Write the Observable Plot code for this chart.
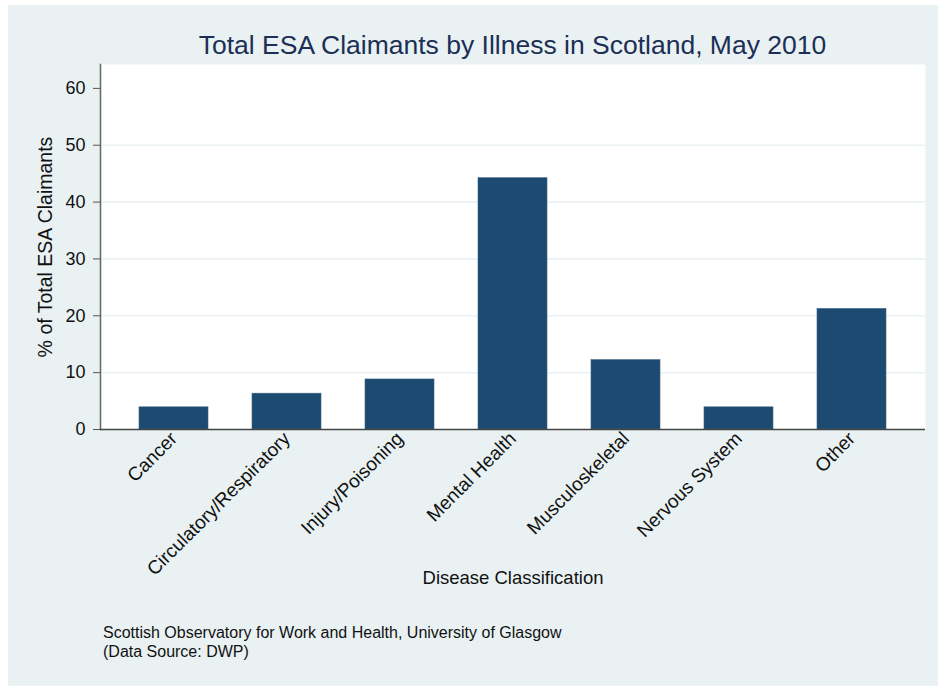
<!DOCTYPE html>
<html><head><meta charset="utf-8">
<script src="https://cdn.jsdelivr.net/npm/d3@7"></script>
<script src="https://cdn.jsdelivr.net/npm/@observablehq/plot@0.6"></script>
<style>
body{margin:0;background:#fff;font-family:"Liberation Sans",Arial,sans-serif;}
#wrap{position:relative;width:938px;height:686px;overflow:hidden;background:#fff;}
#bg{position:absolute;left:8px;top:5px;width:930px;height:681px;background:#e9f1f3;}
#title{position:absolute;left:100px;width:825px;top:30px;text-align:center;font-size:26.5px;line-height:30px;color:#1c2f55;white-space:nowrap;}
#chart{position:absolute;left:0;top:0;}
#caption{position:absolute;left:103px;top:623px;font-size:16px;line-height:19px;color:#111;}
</style></head>
<body>
<div id="wrap">
  <div id="bg"></div>
  <div id="chart"></div>
  <div id="title">Total ESA Claimants by Illness in Scotland, May 2010</div>
  <div id="caption">Scottish Observatory for Work and Health, University of Glasgow<br>(Data Source: DWP)</div>
</div>
<script>
const categories = ["Cancer","Circulatory/Respiratory","Injury/Poisoning","Mental Health","Musculoskeletal","Nervous System","Other"];
const values = [3.9, 6.3, 8.8, 44.2, 12.2, 3.9, 21.2];
const yTicks = [0,10,20,30,40,50,60];
const gridTicks = [10,20,30,40,50];

const data = categories.map((c,i)=>({cat:c, val:values[i]}));

const chart = Plot.plot({
  width: 938,
  height: 686,
  marginLeft: 100,
  marginRight: 13,
  marginTop: 64,
  marginBottom: 257,
  style: {background:"transparent", overflow:"visible", fontFamily:"Liberation Sans, Arial, sans-serif", color:"#111"},
  x: {domain: categories, paddingInner: 0.39, paddingOuter: 0.323},
  y: {domain: [0, 64.2]},
  marks: [
    Plot.frame({fill:"white", stroke:null}),
    Plot.ruleY(gridTicks, {stroke:"#e9f1f3", strokeWidth:1.5}),
    Plot.barY(data, {x:"cat", y:"val", fill:"#1c4a70", stroke:"#3a6488", strokeWidth:0.6}),
    Plot.frame({anchor:"left", stroke:"#666", strokeWidth:1.5}),
    Plot.ruleY([0], {stroke:"#444", strokeWidth:1.5}),
    Plot.axisY({ticks: yTicks, tickSize: 7, tickPadding: 8, fontSize: 18, stroke:"#555", label: null}),
    Plot.axisY({ticks: [], fontSize: 19.5,
      label: "% of Total ESA Claimants", labelAnchor: "center", labelArrow: "none", labelOffset: 62}),
    Plot.axisX({tickRotate: -45, tickSize: 0, tickPadding: 6, fontSize: 19,
      label: null}),
    Plot.axisX({ticks: [], fontSize: 18.5,
      label: "Disease Classification", labelAnchor: "center", labelArrow: "none", labelOffset: 154})
  ]
});
document.getElementById("chart").appendChild(chart);
</script>
</body></html>
